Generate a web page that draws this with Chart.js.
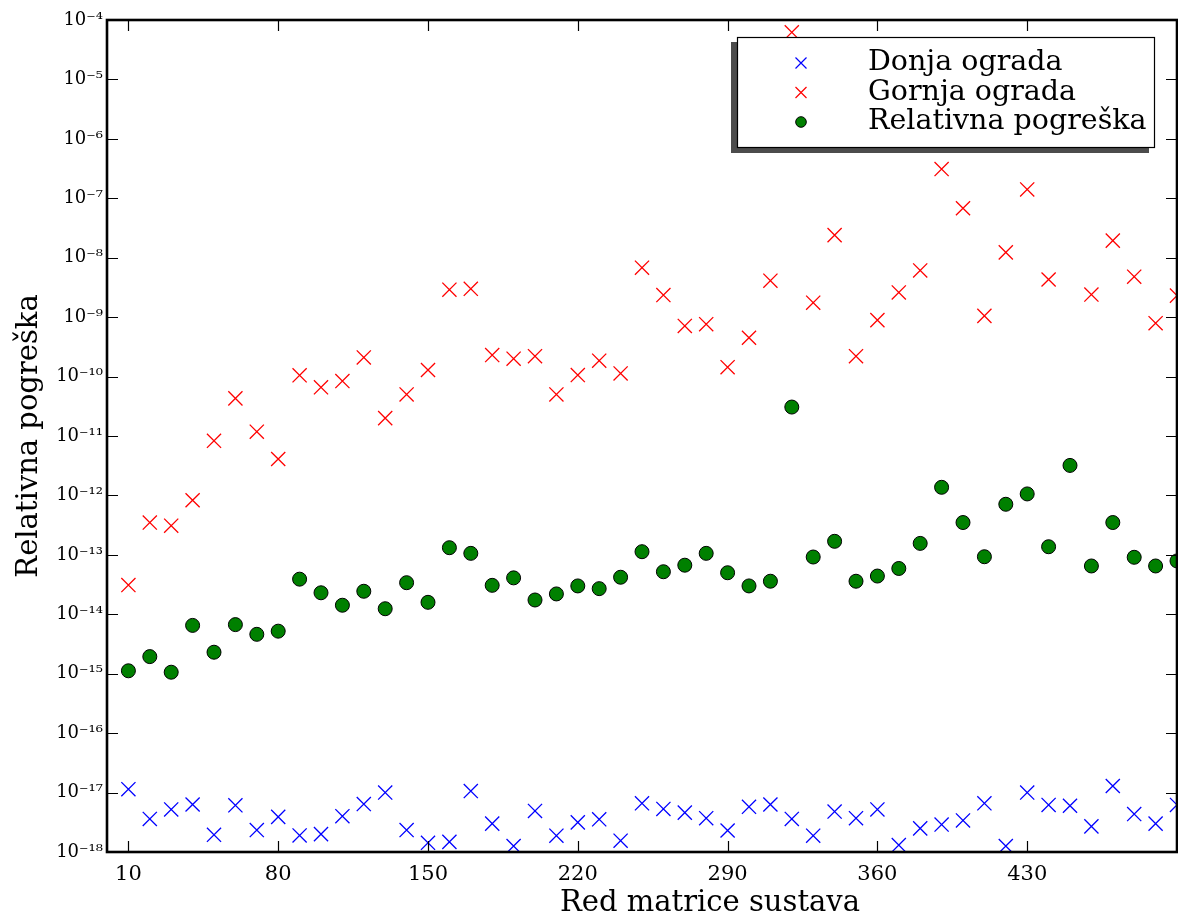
<!DOCTYPE html>
<html><head><meta charset="utf-8">
<script src="https://cdn.jsdelivr.net/npm/chart.js@4/dist/chart.umd.min.js"></script>
<style>html,body{margin:0;padding:0;background:#fff;overflow:hidden}#wrap{width:1178px;height:912px;position:relative}canvas{display:block}</style>
</head><body><div id="wrap"><canvas id="c" width="1178" height="912"></canvas></div>
<script>
// ---- data ----
const ORDER = [10,20,30,40,50,60,70,80,90,100,110,120,130,140,150,160,170,180,190,200,210,220,230,240,250,260,270,280,290,300,310,320,330,340,350,360,370,380,390,400,410,420,430,440,450,460,470,480,490,500];
const LOWER_BOUND = [1.14e-17,3.6e-18,5.2e-18,6.3e-18,1.95e-18,6.1e-18,2.34e-18,3.9e-18,1.9e-18,2.0e-18,4.0e-18,6.4e-18,1.0e-17,2.34e-18,1.43e-18,1.48e-18,1.06e-17,3.0e-18,1.26e-18,4.9e-18,1.88e-18,3.15e-18,3.55e-18,1.55e-18,6.6e-18,5.3e-18,4.6e-18,3.7e-18,2.3e-18,5.77e-18,6.3e-18,3.6e-18,1.88e-18,4.8e-18,3.7e-18,5.2e-18,1.31e-18,2.5e-18,2.9e-18,3.4e-18,6.6e-18,1.26e-18,1.0e-17,6.2e-18,6.0e-18,2.7e-18,1.29e-17,4.35e-18,3.0e-18,6.2e-18];
const UPPER_BOUND = [3.1e-14,3.5e-13,3.1e-13,8.3e-13,8.3e-12,4.3e-11,1.18e-11,4.1e-12,1.05e-10,6.6e-11,8.4e-11,2.1e-10,2.0e-11,5.0e-11,1.29e-10,2.9e-9,3.0e-9,2.3e-10,2.0e-10,2.2e-10,5.0e-11,1.06e-10,1.85e-10,1.13e-10,6.8e-9,2.35e-9,7.1e-10,7.6e-10,1.44e-10,4.5e-10,4.1e-9,6.2e-5,1.75e-9,2.4e-8,2.2e-10,8.9e-10,2.6e-9,6.1e-9,3.1e-7,6.8e-8,1.05e-9,1.23e-8,1.41e-7,4.3e-9,3.0e-6,2.4e-9,1.94e-8,4.8e-9,7.9e-10,2.3e-9];
const REL_ERROR = [1.12e-15,1.94e-15,1.06e-15,6.5e-15,2.3e-15,6.7e-15,4.6e-15,5.2e-15,3.9e-14,2.3e-14,1.42e-14,2.44e-14,1.24e-14,3.4e-14,1.59e-14,1.32e-13,1.06e-13,3.07e-14,4.1e-14,1.74e-14,2.2e-14,3.0e-14,2.7e-14,4.2e-14,1.13e-13,5.2e-14,6.7e-14,1.06e-13,5.0e-14,3.0e-14,3.6e-14,3.07e-11,9.2e-14,1.69e-13,3.6e-14,4.4e-14,5.9e-14,1.56e-13,1.37e-12,3.5e-13,9.3e-14,7.1e-13,1.06e-12,1.37e-13,3.2e-12,6.5e-14,3.5e-13,9.1e-14,6.5e-14,7.9e-14];
const X_TICKS = [10,80,150,220,290,360,430];
const Y_TICK_EXP = [-18,-17,-16,-15,-14,-13,-12,-11,-10,-9,-8,-7,-6,-5,-4];
const SERIES_LABELS = ['Donja ograda','Gornja ograda','Relativna pogreška'];
const X_TITLE = 'Red matrice sustava';
const Y_TITLE = 'Relativna pogreška';

const FONT = '"DejaVu Serif", "Liberation Serif", serif';
const SUP = {'-':'\u207B','0':'\u2070','1':'\u00B9','2':'\u00B2','3':'\u00B3','4':'\u2074','5':'\u2075','6':'\u2076','7':'\u2077','8':'\u2078','9':'\u2079'};
const sup = s => String(s).split('').map(c => SUP[c] || c).join('');
const pts = ys => ORDER.map((x,i) => ({x, y: ys[i]}));

const framePlugin = {
  id: 'frame',
  afterDatasetsDraw(chart) {
    const {ctx, chartArea: a, scales: {x, y}} = chart;
    ctx.save();
    ctx.strokeStyle = '#000';
    ctx.lineWidth = 1.2;
    const L = 11;
    ctx.beginPath();
    X_TICKS.forEach(v => {
      const px = Math.round(x.getPixelForValue(v)) + 0.5;
      ctx.moveTo(px, a.bottom); ctx.lineTo(px, a.bottom - L);
      ctx.moveTo(px, a.top); ctx.lineTo(px, a.top + L);
    });
    Y_TICK_EXP.forEach(e => {
      const py = Math.round(y.getPixelForValue(Math.pow(10, e))) + 0.5;
      ctx.moveTo(a.left, py); ctx.lineTo(a.left + L, py);
      ctx.moveTo(a.right, py); ctx.lineTo(a.right - L, py);
    });
    ctx.stroke();
    ctx.lineWidth = 2.6;
    ctx.strokeRect(a.left, a.top, a.right - a.left, a.bottom - a.top);
    // legend
    const bw = 418, bh = 111;
    const bx = a.right - 22 - bw, by = a.top + 17;
    ctx.fillStyle = '#4c4c4c';
    ctx.fillRect(bx - 6, by + 5, bw, bh);
    ctx.fillStyle = '#fff';
    ctx.fillRect(bx, by, bw, bh);
    ctx.lineWidth = 1.2;
    ctx.strokeStyle = '#000';
    ctx.strokeRect(bx + 0.5, by + 0.5, bw - 1, bh - 1);
    chart.data.datasets.forEach((ds, i) => {
      const mx = bx + 64, my = by + 26 + i * 29.5;
      ctx.save();
      if (ds.pointStyle === 'crossRot') {
        ctx.strokeStyle = ds.borderColor; ctx.lineWidth = 1.2;
        const h = 5.5;
        ctx.beginPath();
        ctx.moveTo(mx - h, my - h); ctx.lineTo(mx + h, my + h);
        ctx.moveTo(mx - h, my + h); ctx.lineTo(mx + h, my - h);
        ctx.stroke();
      } else {
        ctx.fillStyle = ds.backgroundColor; ctx.strokeStyle = ds.borderColor; ctx.lineWidth = 1;
        ctx.beginPath(); ctx.arc(mx, my, 5.3, 0, Math.PI * 2); ctx.fill(); ctx.stroke();
      }
      ctx.restore();
      ctx.fillStyle = '#000';
      ctx.font = '28.5px ' + FONT;
      ctx.textAlign = 'left';
      ctx.textBaseline = 'alphabetic';
      ctx.fillText(ds.label, bx + 131, by + 33 + i * 29.5);
    });
    ctx.restore();
  },
  afterDraw(chart) {
    const {ctx, chartArea: a} = chart;
    ctx.save();
    ctx.fillStyle = '#000';
    ctx.font = '29px ' + FONT;
    ctx.textAlign = 'center';
    ctx.textBaseline = 'alphabetic';
    ctx.fillText(X_TITLE, (a.left + a.right) / 2 + 68, 911);
    ctx.restore();
  }
};

new Chart(document.getElementById('c'), {
  type: 'scatter',
  data: {
    datasets: [
      {label: SERIES_LABELS[0], data: pts(LOWER_BOUND), pointStyle: 'crossRot', radius: 10, borderColor: '#0000ff', backgroundColor: '#0000ff', borderWidth: 1.3, order: 3, clip: 0},
      {label: SERIES_LABELS[1], data: pts(UPPER_BOUND), pointStyle: 'crossRot', radius: 10, borderColor: '#ff0000', backgroundColor: '#ff0000', borderWidth: 1.3, order: 2, clip: 0},
      {label: SERIES_LABELS[2], data: pts(REL_ERROR), pointStyle: 'circle', radius: 7, borderColor: '#000000', backgroundColor: '#008000', borderWidth: 1, order: 1, clip: 0}
    ]
  },
  options: {
    responsive: false,
    devicePixelRatio: 1,
    animation: false,
    events: [],
    layout: {autoPadding: false, padding: {top: 20, right: 1, left: 0, bottom: 0}},
    plugins: {legend: {display: false}, tooltip: {enabled: false}},
    scales: {
      x: {
        type: 'linear', min: 0, max: 500,
        grid: {display: false, drawTicks: false},
        border: {display: false},
        afterBuildTicks: s => { s.ticks = X_TICKS.map(v => ({value: v})); },
        afterFit: s => { s.height = 60; s.paddingLeft = 0; s.paddingRight = 0; },
        ticks: {color: '#000', padding: 10, maxRotation: 0, font: {family: FONT, size: 21}, callback: v => String(v)}
      },
      y: {
        type: 'logarithmic', min: 1e-18, max: 1e-4,
        grid: {display: false, drawTicks: false},
        border: {display: false},
        afterBuildTicks: s => { s.ticks = Y_TICK_EXP.map(e => ({value: Math.pow(10, e)})); },
        afterFit: s => { s.width = 107; s.paddingTop = 0; s.paddingBottom = 0; },
        ticks: {color: '#000', padding: 4, font: {family: FONT, size: 18}, callback: v => '10' + sup(Math.round(Math.log10(v)))},
        title: {display: true, text: Y_TITLE, color: '#000', font: {family: FONT, size: 29}, padding: {top: 12, bottom: 0}}
      }
    }
  },
  plugins: [framePlugin]
});
</script></body></html>
